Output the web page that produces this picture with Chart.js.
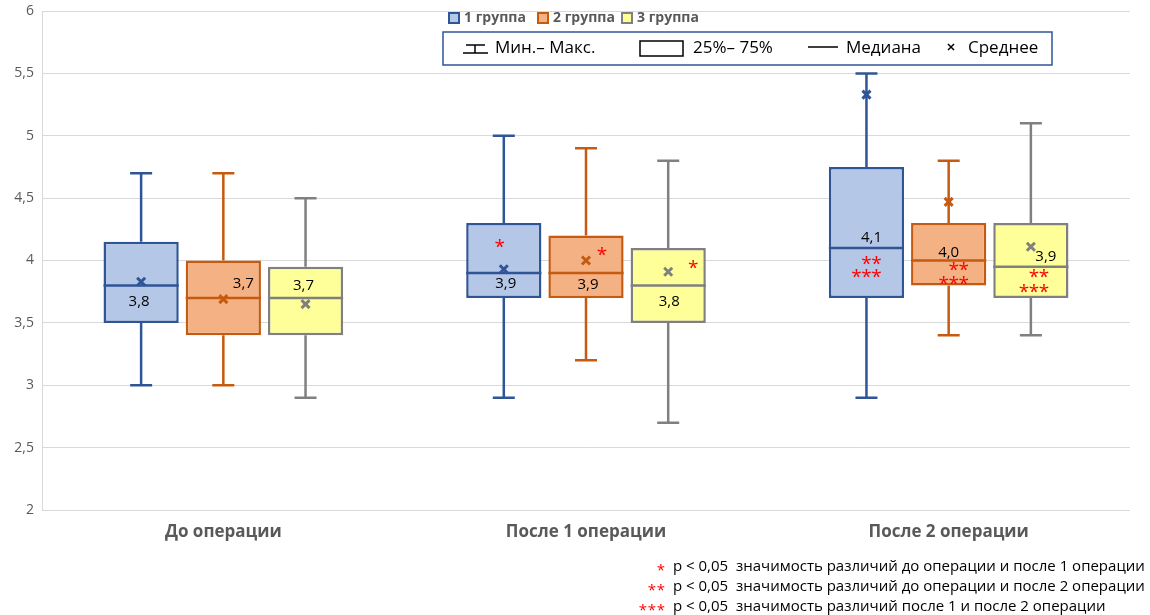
<!DOCTYPE html>
<html>
<head>
<meta charset="utf-8">
<script src="https://cdn.jsdelivr.net/npm/chart.js@4.4.1/dist/chart.umd.min.js"></script>
<style>
    body { margin: 0; background: #fff; }
    #chart { display: block; }
</style>
</head>
<body>
<canvas id="chart" width="1150" height="615"></canvas>
<script>
// Data
const categories = ['До операции', 'После 1 операции', 'После 2 операции'];
const groups = ['1 группа', '2 группа', '3 группа'];

// one row per group, one value per category
const minValues = [[3.0, 2.9, 2.9], [3.0, 3.2, 3.4], [2.9, 2.7, 3.4]];
const q1Values = [[3.5, 3.7, 3.7], [3.4, 3.7, 3.8], [3.4, 3.5, 3.7]];
const medianValues = [[3.8, 3.9, 4.1], [3.7, 3.9, 4.0], [3.7, 3.8, 3.95]];
const q3Values = [[4.15, 4.3, 4.75], [4.0, 4.2, 4.3], [3.95, 4.1, 4.3]];
const maxValues = [[4.7, 5.0, 5.5], [4.7, 4.9, 4.8], [4.5, 4.8, 5.1]];
const meanValues = [[3.83, 3.93, 5.33], [3.69, 4.0, 4.47], [3.65, 3.91, 4.11]];
const valueLabels = [['3,8', '3,9', '4,1'], ['3,7', '3,9', '4,0'], ['3,7', '3,8', '3,9']];
const significanceMarks = [
    [[], ['*'], ['**', '***']],
    [[], ['*'], ['**', '***']],
    [[], ['*'], ['**', '***']]
];
const yTicks = [2, 2.5, 3, 3.5, 4, 4.5, 5, 5.5, 6];

const notes = [
    ['*', 'p < 0,05  значимость различий до операции и после 1 операции'],
    ['**', 'p < 0,05  значимость различий до операции и после 2 операции'],
    ['***', 'p < 0,05  значимость различий после 1 и после 2 операции']
];

// Styles
const fillColors = ['#B4C7E7', '#F4B183', '#FFFF99'];
const lineColors = ['#2F5597', '#C55A11', '#808080'];
const FONT = '"Open Sans", "Liberation Sans", sans-serif';

// label offsets from box centre / median pixel
const labelOffsets = [
    [[-2, 16], [2, 11], [5, -10]],
    [[20, -14], [2, 12], [0, -8]],
    [[-2, -12], [1, 16], [15, -10]]
];
const markOffsets = [
    [[], [[-4, -30]], [[5, 12], [0, 25]]],
    [[], [[16, -22]], [[10, 5], [5, 19]]],
    [[], [[25, -22]], [[8, 6], [3, 21]]]
];

// draws a row of asterisks, one by one, centred on x
function drawStars(ctx, text, x, y, step) {
    const n = text.length;
    const start = x - (n - 1) * step / 2;
    for (let k = 0; k < n; k++) {
        ctx.fillText('*', start + k * step, y);
    }
}

const datasets = groups.map((g, i) => ({
    label: g,
    data: q1Values[i].map((v, j) => [v, q3Values[i][j]]),
    backgroundColor: fillColors[i],
    borderColor: lineColors[i],
    borderWidth: 2.5,
    borderSkipped: false,
    categoryPercentage: 0.68,
    barPercentage: 0.915
}));

// whiskers, medians, means, labels
const boxPlugin = {
    id: 'boxExtras',
    beforeDatasetsDraw(chart) {
        const ctx = chart.ctx;
        const y = chart.scales.y;
        groups.forEach((g, i) => {
            chart.getDatasetMeta(i).data.forEach((bar, j) => {
                ctx.save();
                ctx.strokeStyle = lineColors[i];
                ctx.lineWidth = 2.5;
                const x = bar.x;
                const yMin = y.getPixelForValue(minValues[i][j]);
                const yMax = y.getPixelForValue(maxValues[i][j]);
                ctx.beginPath();
                ctx.moveTo(x, y.getPixelForValue(q3Values[i][j]));
                ctx.lineTo(x, yMax);
                ctx.moveTo(x, y.getPixelForValue(q1Values[i][j]));
                ctx.lineTo(x, yMin);
                ctx.moveTo(x - 11, yMax);
                ctx.lineTo(x + 11, yMax);
                ctx.moveTo(x - 11, yMin);
                ctx.lineTo(x + 11, yMin);
                ctx.stroke();
                ctx.restore();
            });
        });
    },
    afterDatasetsDraw(chart) {
        const ctx = chart.ctx;
        const y = chart.scales.y;
        groups.forEach((g, i) => {
            chart.getDatasetMeta(i).data.forEach((bar, j) => {
                const x = bar.x;
                const half = bar.width / 2;
                const yMed = y.getPixelForValue(medianValues[i][j]);
                ctx.save();
                ctx.strokeStyle = lineColors[i];
                ctx.lineWidth = 2.5;
                ctx.beginPath();
                ctx.moveTo(x - half, yMed);
                ctx.lineTo(x + half, yMed);
                ctx.stroke();

                // mean marker
                const yMean = y.getPixelForValue(meanValues[i][j]);
                ctx.lineWidth = 3;
                ctx.beginPath();
                ctx.moveTo(x - 4, yMean - 4);
                ctx.lineTo(x + 4, yMean + 4);
                ctx.moveTo(x + 4, yMean - 4);
                ctx.lineTo(x - 4, yMean + 4);
                ctx.stroke();

                // value label
                ctx.fillStyle = '#000';
                ctx.font = '15px ' + FONT;
                ctx.textAlign = 'center';
                ctx.textBaseline = 'middle';
                const off = labelOffsets[i][j];
                ctx.fillText(valueLabels[i][j], x + off[0], yMed + off[1]);

                // significance marks
                ctx.fillStyle = '#FF0000';
                ctx.font = '19px ' + FONT;
                significanceMarks[i][j].forEach((m, k) => {
                    const mo = markOffsets[i][j][k];
                    drawStars(ctx, m, x + mo[0], yMed + mo[1] + 5, 10);
                });
                ctx.restore();
            });
        });
    },
    afterDraw(chart) {
        const ctx = chart.ctx;
        ctx.save();
        // series legend
        const legendX = [449, 538, 622];
        ctx.font = 'bold 14px ' + FONT;
        ctx.textBaseline = 'middle';
        ctx.textAlign = 'left';
        groups.forEach((g, i) => {
            ctx.fillStyle = fillColors[i];
            ctx.strokeStyle = lineColors[i];
            ctx.lineWidth = 2;
            ctx.fillRect(legendX[i], 13, 10, 10);
            ctx.strokeRect(legendX[i], 13, 10, 10);
            ctx.fillStyle = '#595959';
            ctx.fillText(g, legendX[i] + 15, 18);
        });

        // box legend
        ctx.fillStyle = '#fff';
        ctx.fillRect(443, 32, 609, 33);
        ctx.strokeStyle = '#2F5597';
        ctx.lineWidth = 1.5;
        ctx.strokeRect(443, 32, 609, 33);

        ctx.strokeStyle = '#000';
        ctx.lineWidth = 1.5;
        ctx.beginPath();
        ctx.moveTo(466, 45); ctx.lineTo(485, 45);
        ctx.moveTo(475, 45); ctx.lineTo(475, 53);
        ctx.moveTo(463, 53); ctx.lineTo(488, 53);
        ctx.stroke();
        ctx.strokeRect(640, 41, 43, 15);
        ctx.beginPath();
        ctx.moveTo(808, 47); ctx.lineTo(838, 47);
        ctx.moveTo(948, 44); ctx.lineTo(954, 50);
        ctx.moveTo(954, 44); ctx.lineTo(948, 50);
        ctx.stroke();

        ctx.fillStyle = '#000';
        ctx.font = '17px ' + FONT;
        ctx.fillText('Мин.– Макс.', 495, 48);
        ctx.fillText('25%– 75%', 693, 48);
        ctx.fillText('Медиана', 846, 48);
        ctx.fillText('Среднее', 968, 48);

        // notes
        notes.forEach((n, k) => {
            const yy = 567 + k * 20;
            ctx.fillStyle = '#FF0000';
            ctx.font = '15px ' + FONT;
            ctx.textAlign = 'center';
            drawStars(ctx, n[0], 661 - (n[0].length - 1) * 4.5, yy + 4, 9);
            ctx.fillStyle = '#000';
            ctx.font = '15px ' + FONT;
            ctx.textAlign = 'left';
            ctx.fillText(n[1], 673, yy);
        });
        ctx.restore();
    }
};

const ctx = document.getElementById('chart').getContext('2d');
const chart = new Chart(ctx, {
    type: 'bar',
    data: {
        labels: categories,
        datasets: datasets
    },
    options: {
        responsive: false,
        animation: false,
        layout: {
            padding: { top: 11, right: 20, left: 0, bottom: 0 }
        },
        plugins: {
            legend: { display: false },
            tooltip: { enabled: false }
        },
        scales: {
            x: {
                grid: { display: false, drawTicks: false },
                border: { display: false },
                ticks: {
                    color: '#595959',
                    padding: 12,
                    font: { family: FONT, size: 17, weight: 'bold' }
                },
                afterFit: s => { s.height = 105; }
            },
            y: {
                min: 2,
                max: 6,
                afterBuildTicks: s => { s.ticks = yTicks.map(v => ({ value: v })); },
                grid: { color: '#D9D9D9', drawTicks: false },
                border: { display: true, color: '#D9D9D9' },
                ticks: {
                    color: '#595959',
                    padding: 8,
                    font: { family: FONT, size: 14 },
                    callback: v => String(v).replace('.', ',')
                },
                afterFit: s => { s.width = 42; s.paddingTop = 0; s.paddingBottom = 0; }
            }
        }
    },
    plugins: [boxPlugin]
});
</script>
</body>
</html>
